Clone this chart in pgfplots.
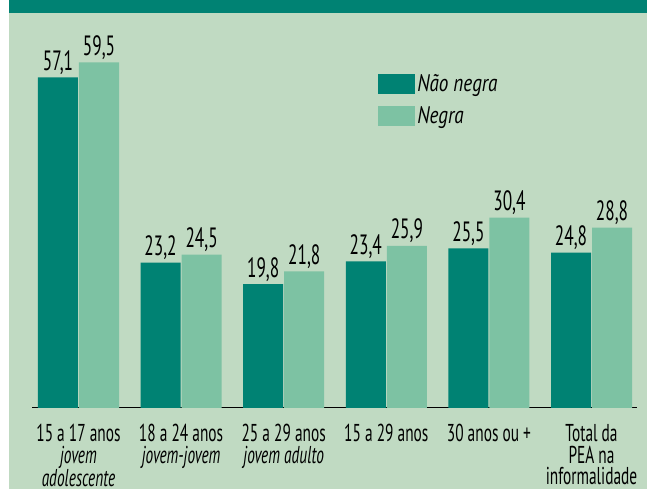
\documentclass[border=0pt]{standalone}
\usepackage{pgfplots}
\pgfplotsset{compat=1.18}
\usepackage{fontspec}
\setmainfont{PT Sans}[FakeStretch=0.63]
\newfontfamily\valfont{PT Sans}[FakeStretch=0.62]
\newfontfamily\legfont{PT Sans}[FakeStretch=0.8]
\definecolor{bg}{HTML}{C0DAC2}
\definecolor{dk}{HTML}{008273}
\definecolor{lt}{HTML}{7DC2A3}
\begin{document}
\begin{tikzpicture}[x=1bp,y=1bp]
\clip (0,0) rectangle (647,489);
\fill[white] (0,0) rectangle (647,489);
\fill[bg] (9,0) rectangle (647,489);
\fill[dk] (9,476) rectangle (647,489);
\begin{axis}[
  at={(32bp,81bp)}, anchor=south west,
  scale only axis, width=605bp, height=407bp,
  xmin=-0.453, xmax=5.443, ymin=0, ymax=65,
  ybar, bar width=0.39,
  axis x line=bottom, axis y line=none,
  axis line style={-, black, line width=1pt},
  xtick={0,...,5}, major tick length=0pt, xtick style={draw=none},
  xticklabels={
    {15 a 17 anos\\\textit{jovem}\\\textit{adolescente}},
    {18 a 24 anos\\\textit{jovem-jovem}},
    {25 a 29 anos\\\textit{jovem adulto}},
    {15 a 29 anos},
    {30 anos ou +},
    {Total da\\PEA na\\informalidade}},
  xticklabel style={align=center, font=\fontsize{24.5}{21.5}\selectfont, text=black, yshift=-13bp},
  point meta=explicit,
  nodes near coords,
  nodes near coords style={font=\valfont\fontsize{28}{28}\selectfont, text=black, inner sep=2.5bp},
  /pgf/number format/.cd, fixed, fixed zerofill, precision=1, use comma, assume math mode=true,
  /pgfplots/.cd,
  legend style={draw=none, fill=none, at={(0.572,0.825)}, anchor=north west,
    inner sep=0pt, row sep=10bp, font=\legfont\itshape\fontsize{24}{24}\selectfont,
    /tikz/every even column/.append style={column sep=6bp}},
  legend cell align=left,
  legend image code/.code={\fill[#1] (0bp,-10bp) rectangle (37bp,10bp);},
]
% first group is drawn shortened in the original chart; labels carry the true values
\addplot[fill=dk, draw=none, bar shift=-0.2] coordinates {(0,52.8) [57.1] (1,23.2) [23.2] (2,19.8) [19.8] (3,23.4) [23.4] (4,25.5) [25.5] (5,24.8) [24.8]};
\addplot[fill=lt, draw=none, bar shift=0.2] coordinates {(0,55.2) [59.5] (1,24.5) [24.5] (2,21.8) [21.8] (3,25.9) [25.9] (4,30.4) [30.4] (5,28.8) [28.8]};
\legend{Não negra, Negra}
\end{axis}
\end{tikzpicture}
\end{document}
